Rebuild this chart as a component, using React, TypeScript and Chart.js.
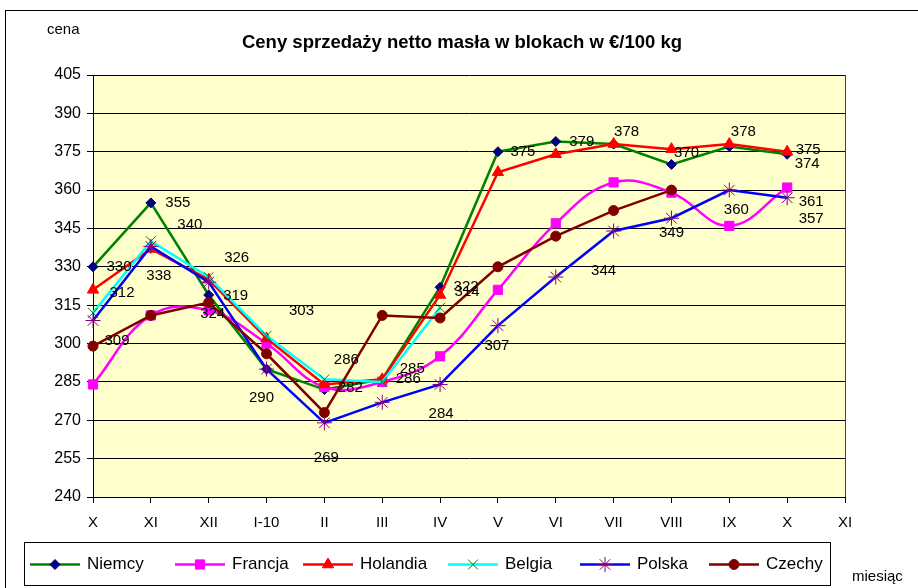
import React, { useEffect, useRef } from 'react';
import { Chart, registerables } from 'chart.js';
import { drawPoint } from 'chart.js/helpers';

Chart.register(...registerables);

const TITLE = 'Ceny sprzedaży netto masła w blokach w €/100 kg';
const Y_TITLE = 'cena';
const X_TITLE = 'miesiąc';

const categories = ['X', 'XI', 'XII', 'I-10', 'II', 'III', 'IV', 'V', 'VI', 'VII', 'VIII', 'IX', 'X', 'XI'];

const niemcy = [330, 355, 319, 290, 282, 286, 322, 375, 379, 378, 370, 377, 374];
const francja = [284, 311, 313, 300, 283, 285, 295, 321, 347, 363, 359, 346, 361];
const holandia = [321, 337, 325, 302, 284, 286, 319, 367, 374, 378, 376, 378, 375];
const belgia = [312, 340, 326, 303, 286, 285, 314, null, null, null, null, null, null];
const polska = [309, 338, 324, 290, 269, 277, 284, 307, 326, 344, 349, 360, 357];
const czechy = [299, 311, 316, 296, 273, 311, 310, 330, 342, 352, 360, null, null];

const Y_MIN = 240;
const Y_MAX = 405;
const Y_STEP = 15;

// which points carry a value label: [datasetIndex, pointIndex, dx, dy]
const valueLabels: [number, number, number, number][] = [
  [0, 0, 26, 0], [0, 1, 27, 0], [0, 2, 27, 1], [0, 4, 26, -2], [0, 5, 26, 0],
  [0, 6, 26, 0], [0, 7, 25, 0], [0, 8, 26, 0], [0, 10, 15, -12], [0, 12, 20, 10],
  [3, 0, 29, -20], [3, 1, 39, -16], [3, 2, 28, -19], [3, 3, 35, -25], [3, 4, 22, -19],
  [3, 5, 30, -13], [3, 6, 27, -16],
  [4, 0, 24, 20], [4, 1, 8, 30], [4, 2, 4, 32], [4, 3, -5, 29], [4, 4, 2, 35],
  [4, 6, 1, 29], [4, 7, -1, 20], [4, 9, -10, 40], [4, 10, 0, 15], [4, 11, 7, 20], [4, 12, 24, 21],
  [2, 9, 13, -12], [2, 11, 14, -12], [2, 12, 21, -2],
  [1, 12, 24, 14],
];

const FONT = '"Liberation Sans", Arial, sans-serif';

const seriesDefs = [
  { label: 'Niemcy', data: niemcy, line: '#008000', marker: '#000080', style: 'rectRot', radius: 5, filled: true, tension: 0 },
  { label: 'Francja', data: francja, line: '#FF00FF', marker: '#FF00FF', style: 'rect', radius: 6.5, filled: true, tension: 0.4 },
  { label: 'Holandia', data: holandia, line: '#FF0000', marker: '#FF0000', style: 'triangle', radius: 6.5, filled: true, tension: 0 },
  { label: 'Belgia', data: belgia, line: '#00FFFF', marker: '#008000', style: 'crossRot', radius: 7, filled: false, tension: 0 },
  { label: 'Polska', data: polska, line: '#0000FF', marker: '#800080', style: 'star', radius: 7.5, filled: false, tension: 0 },
  { label: 'Czechy', data: czechy, line: '#800000', marker: '#800000', style: 'circle', radius: 5, filled: true, tension: 0 },
];

// legend item start positions (layout)
const legendStarts = [30, 175, 303, 448, 580, 709];

const decorPlugin = {
  id: 'decor',
  beforeDraw(chart: any) {
    const { ctx, chartArea } = chart;
    ctx.save();
    ctx.fillStyle = '#FFFFFF';
    ctx.fillRect(0, 0, chart.width, chart.height);
    ctx.strokeStyle = '#000000';
    ctx.lineWidth = 1;
    ctx.strokeRect(5.5, 10.5, 2000, 2000);
    ctx.fillStyle = '#FFFFCC';
    ctx.fillRect(chartArea.left, chartArea.top, chartArea.right - chartArea.left, chartArea.bottom - chartArea.top);
    ctx.restore();
  },
  afterDatasetsDraw(chart: any) {
    const { ctx, chartArea } = chart;
    ctx.save();
    ctx.strokeStyle = '#404040';
    ctx.lineWidth = 1;
    ctx.beginPath();
    ctx.moveTo(Math.round(chartArea.right) + 0.5, chartArea.top);
    ctx.lineTo(Math.round(chartArea.right) + 0.5, chartArea.bottom);
    ctx.stroke();

    ctx.fillStyle = '#000000';
    ctx.font = '15px ' + FONT;
    ctx.textAlign = 'center';
    ctx.textBaseline = 'middle';
    valueLabels.forEach(([ds, i, dx, dy]) => {
      const meta = chart.getDatasetMeta(ds);
      const el = meta.data[i];
      const v = chart.data.datasets[ds].data[i];
      if (!el || v == null) return;
      ctx.fillText(String(v), el.x + dx, el.y + dy);
    });
    ctx.restore();
  },
  afterDraw(chart: any) {
    const { ctx } = chart;
    ctx.save();
    ctx.fillStyle = '#000000';
    ctx.textBaseline = 'middle';
    ctx.textAlign = 'center';
    ctx.font = 'bold 18.5px ' + FONT;
    ctx.fillText(TITLE, 462, 43);
    ctx.textAlign = 'left';
    ctx.font = '15px ' + FONT;
    ctx.fillText(Y_TITLE, 47, 30);
    ctx.fillText(X_TITLE, 852, 577);

    const boxL = 24, boxT = 542, boxR = 830, boxB = 585;
    ctx.strokeStyle = '#000000';
    ctx.lineWidth = 1;
    ctx.strokeRect(boxL + 0.5, boxT + 0.5, boxR - boxL, boxB - boxT);
    const cy = (boxT + boxB) / 2 + 1;
    ctx.font = '17px ' + FONT;
    chart.data.datasets.forEach((ds: any, k: number) => {
      const x = legendStarts[k];
      ctx.strokeStyle = ds.borderColor;
      ctx.lineWidth = 2.5;
      ctx.beginPath();
      ctx.moveTo(x, cy);
      ctx.lineTo(x + 50, cy);
      ctx.stroke();
      ctx.fillStyle = ds.pointBackgroundColor;
      ctx.strokeStyle = ds.pointBorderColor;
      ctx.lineWidth = 1;
      drawPoint(ctx, { pointStyle: ds.pointStyle, rotation: 0, radius: ds.pointRadius, borderWidth: 1 }, x + 25, cy);
      ctx.fillStyle = '#000000';
      ctx.textAlign = 'left';
      ctx.fillText(ds.label, x + 57, cy);
    });
    ctx.restore();
  },
};

export default function App() {
  const canvasRef = useRef<HTMLCanvasElement | null>(null);

  useEffect(() => {
    const canvas = canvasRef.current;
    if (!canvas) return;
    const datasets = seriesDefs.map((s, idx) => ({
      label: s.label,
      data: s.data,
      borderColor: s.line,
      backgroundColor: s.line,
      borderWidth: 2.5,
      tension: s.tension,
      pointStyle: s.style,
      pointRadius: s.radius,
      pointHoverRadius: s.radius,
      pointBackgroundColor: s.filled ? s.marker : 'rgba(0,0,0,0)',
      pointBorderColor: s.marker,
      pointBorderWidth: 1,
      spanGaps: false,
      fill: false,
      order: seriesDefs.length - idx,
    }));
    const chart = new Chart(canvas, {
      type: 'line',
      data: { labels: categories, datasets },
      options: {
        responsive: false,
        animation: false,
        devicePixelRatio: 1,
        layout: { padding: { left: 0, top: 75, right: 73, bottom: 61 } },
        plugins: {
          legend: { display: false },
          title: { display: false },
          tooltip: { enabled: false },
        },
        scales: {
          x: {
            type: 'category',
            offset: false,
            grid: { display: true, drawOnChartArea: false, drawTicks: true, tickLength: 6, color: '#000000' },
            border: { display: true, color: '#000000', width: 1 },
            ticks: {
              autoSkip: false,
              maxRotation: 0,
              color: '#000000',
              padding: 11,
              font: { family: FONT, size: 15 },
            },
            afterFit: (s: any) => { s.height = 30; },
          },
          y: {
            min: Y_MIN,
            max: Y_MAX,
            grid: { color: '#000000', lineWidth: 1, drawTicks: true, tickLength: 6 },
            border: { display: true, color: '#000000', width: 1 },
            ticks: {
              stepSize: Y_STEP,
              color: '#000000',
              padding: 6,
              font: { family: FONT, size: 16 },
            },
            afterFit: (s: any) => { s.width = 93; },
          },
        },
      },
      plugins: [decorPlugin],
    });
    return () => chart.destroy();
  }, []);

  return (
    <div style={{ position: 'absolute', left: 0, top: 0, width: 918, height: 588 }}>
      <canvas ref={canvasRef} width={918} height={588} style={{ display: 'block' }} />
    </div>
  );
}
